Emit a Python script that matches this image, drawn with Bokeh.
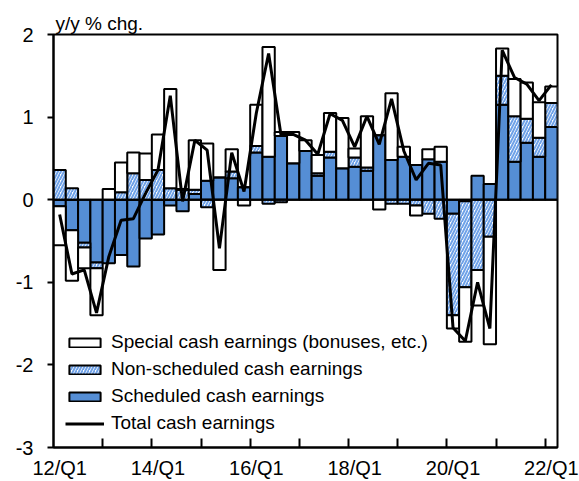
import numpy as np
from bokeh.plotting import figure
from bokeh.models import ColumnDataSource, FixedTicker, Range1d, Legend, LegendItem, Span
from bokeh.embed import file_html
from bokeh.resources import INLINE

# ---------------- data (y/y % chg., quarterly 12/Q1 .. 22/Q1) ----------------
quarters = [f"{yy:02d}/Q{q}" for yy in range(12, 23) for q in range(1, 5)][:41]

scheduled = [-0.08, -0.37, -0.52, -0.76, -0.77, -0.67, -0.81, -0.47, -0.42, -0.07,
             -0.14, 0.07, 0.23, 0.27, 0.26, 0.15, 0.57, 0.52, 0.77, 0.44,
             0.59, 0.29, 0.51, 0.38, 0.40, 0.35, 0.78, 0.48, 0.52, 0.42,
             0.49, 0.46, -0.17, -0.02, 0.29, 0.19, 1.15, 0.46, 0.69, 0.52,
             0.88]
non_scheduled = [0.36, 0.14, -0.06, -0.07, 0.00, 0.09, 0.32, 0.24, 0.36, 0.14,
                 0.12, 0.05, -0.09, 0.00, 0.08, 0.00, 0.08, -0.05, -0.03, 0.00,
                 0.00, 0.03, 0.07, 0.00, 0.11, 0.04, 0.00, -0.05, -0.05, -0.07,
                 -0.17, -0.23, -1.23, -1.04, -0.85, -0.45, 0.35, 0.55, 0.29, 0.23,
                 0.29]
special = [-0.47, -0.61, -0.25, -0.57, 0.13, 0.36, 0.25, 0.32, 0.43, 1.20,
           0.01, 0.60, 0.45, -0.85, 0.27, -0.07, 0.50, 1.33, 0.05, 0.38,
           0.13, 0.22, 0.47, 0.61, 0.11, 0.62, -0.12, 0.81, 0.12, -0.12,
           0.12, 0.18, -0.16, -0.66, -0.43, -1.30, 0.33, 0.45, 0.44, 0.43,
           0.20]
total = [-0.18, -0.90, -0.85, -1.37, -0.69, -0.25, -0.23, 0.08, 0.36, 1.26,
         -0.02, 0.72, 0.60, -0.59, 0.57, 0.10, 1.05, 1.77, 0.79, 0.79,
         0.72, 0.55, 1.04, 0.96, 0.64, 1.01, 0.67, 1.22, 0.59, 0.24,
         0.44, 0.42, -1.55, -1.71, -1.00, -1.56, 1.81, 1.48, 1.40, 1.20,
         1.39]

tick_labels = ["12/Q1", "14/Q1", "16/Q1", "18/Q1", "20/Q1", "22/Q1"]
y_ticks = [-3, -2, -1, 0, 1, 2]
y_tick_labels = ["-3", "-2", "-1", "0", "1", "2"]
y_unit = "y/y % chg."

series_names = ["Scheduled cash earnings", "Non-scheduled cash earnings",
                "Special cash earnings (bonuses, etc.)"]
line_name = "Total cash earnings"

# ---------------- stacking (positives up, negatives down) ----------------
n = len(quarters)
x = np.arange(n)
pos_base = np.zeros(n)
neg_base = np.zeros(n)
stacks = []
for vals in (scheduled, non_scheduled, special):
    v = np.asarray(vals, dtype=float)
    bottom = np.where(v >= 0, pos_base, neg_base)
    top = bottom + v
    pos_base = np.where(v >= 0, top, pos_base)
    neg_base = np.where(v < 0, top, neg_base)
    stacks.append(ColumnDataSource(dict(x=x, bottom=bottom, top=top)))

FONT = "Liberation Sans"

p = figure(width=579, height=481, output_backend="svg", toolbar_location=None,
           x_range=Range1d(-0.5, n - 0.5), y_range=Range1d(-3, 2),
           min_border_left=53, min_border_right=22, min_border_top=34, min_border_bottom=32,
           title=y_unit)
p.background_fill_color = "white"
p.border_fill_color = "white"
p.outline_line_color = "black"
p.outline_line_width = 2
p.xgrid.visible = False
p.ygrid.visible = False

p.title.text_font = FONT
p.title.text_font_size = "19px"
p.title.text_font_style = "normal"
p.title.text_color = "black"
p.title.align = "left"
p.title.offset = 2
p.title.standoff = 2

BLUE = "#558ED5"
r_sched = p.vbar(x="x", bottom="bottom", top="top", width=1.0, source=stacks[0],
                 fill_color=BLUE, line_color="black", line_width=2)
r_non = p.vbar(x="x", bottom="bottom", top="top", width=1.0, source=stacks[1],
               fill_color="white", hatch_pattern="/", hatch_color="#6FA2E8",
               hatch_scale=6, hatch_weight=2.0, line_color="black", line_width=2)
r_spec = p.vbar(x="x", bottom="bottom", top="top", width=1.0, source=stacks[2],
                fill_color="white", line_color="black", line_width=2)

zero = Span(location=0, dimension="width", line_color="black", line_width=2)
p.add_layout(zero)

r_tot = p.line(x, total, line_color="black", line_width=3, level="overlay")

# ---------------- axes ----------------
label_pos = [quarters.index(t) for t in tick_labels]
year_bounds = [i - 0.5 for i, q in enumerate(quarters) if q.endswith("Q1") and i > 0]
xa = p.xaxis[0]
xa.ticker = FixedTicker(ticks=label_pos, minor_ticks=year_bounds)
xa.major_label_overrides = {pos: lab for pos, lab in zip(label_pos, tick_labels)}
xa.major_tick_line_color = None
xa.major_tick_out = 0
xa.major_tick_in = 0
xa.minor_tick_line_color = "black"
xa.minor_tick_line_width = 2
xa.minor_tick_in = 9
xa.minor_tick_out = 0
xa.axis_line_color = "black"
xa.axis_line_width = 2
xa.major_label_text_font = FONT
xa.major_label_text_font_size = "20px"
xa.major_label_text_color = "black"
xa.major_label_standoff = 9

ya = p.yaxis[0]
ya.ticker = FixedTicker(ticks=y_ticks)
ya.major_label_overrides = {t: lab for t, lab in zip(y_ticks, y_tick_labels)}
ya.axis_line_color = "black"
ya.axis_line_width = 2
ya.major_tick_line_color = "black"
ya.major_tick_line_width = 2
ya.major_tick_out = 6
ya.major_tick_in = 0
ya.minor_tick_line_color = None
ya.major_label_text_font = FONT
ya.major_label_text_font_size = "20px"
ya.major_label_text_color = "black"
ya.major_label_standoff = 14

legend = Legend(items=[LegendItem(label=series_names[2], renderers=[r_spec]),
                       LegendItem(label=series_names[1], renderers=[r_non]),
                       LegendItem(label=series_names[0], renderers=[r_sched]),
                       LegendItem(label=line_name, renderers=[r_tot])],
                location=(12, 13), orientation="vertical",
                glyph_width=39, glyph_height=11, label_height=22, spacing=5,
                label_standoff=7, padding=0, margin=0,
                border_line_color=None, background_fill_alpha=0,
                label_text_font=FONT, label_text_font_size="19px", label_text_color="black")
p.add_layout(legend)

open("out.html", "w").write(file_html(p, INLINE))
